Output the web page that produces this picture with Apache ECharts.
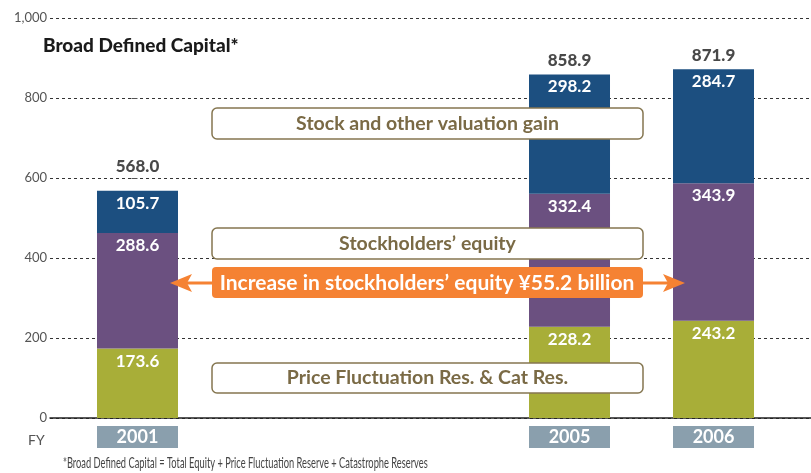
<!DOCTYPE html>
<html>
<head>
<meta charset="utf-8">
<script src="https://cdn.jsdelivr.net/npm/echarts@6/dist/echarts.min.js"></script>
<style>
  html, body { margin: 0; padding: 0; background: #fff; }
  #chart { width: 811px; height: 473px; }
</style>
</head>
<body>
<div id="chart"></div>
<script>
// fiscal years shown, and the slots on the x scale (empty ones are the gap)
const slots = ['2001', '', '', '2005', '2006']
const years = ['2001', '2005', '2006']
const priceRes = [173.6, 228.2, 243.2]     // Price Fluctuation Res. & Cat Res.
const equity = [288.6, 332.4, 343.9]       // Stockholders' equity
const valuation = [105.7, 298.2, 284.7]    // Stock and other valuation gain
const totals = [568.0, 858.9, 871.9]
const yTicks = [0, 200, 400, 600, 800, 1000]

const FONT = 'Lato, "Open Sans", sans-serif'
const xPos = years.map(y => slots.indexOf(y))

// value first, slot second: keeps the stack on the y values
function stackSeries(name, values, color) {
  return {
    name,
    type: 'bar',
    stack: 'capital',
    barWidth: 81,
    encode: { x: 1, y: 0 },
    itemStyle: { color },
    label: {
      show: true,
      position: 'insideTop',
      distance: 4,
      color: '#fff',
      fontFamily: FONT,
      fontWeight: 'bold',
      fontSize: 17,
      formatter: p => p.value[0].toFixed(1)
    },
    data: values.map((v, i) => [v, xPos[i]])
  }
}

function noteBox(x, y, w, h, text) {
  return {
    type: 'group',
    z: 10,
    children: [
      {
        type: 'rect',
        z: 10,
        shape: { x, y, width: w, height: h, r: 5 },
        style: { fill: '#fff', stroke: '#857650', lineWidth: 1.5 }
      },
      {
        type: 'text',
        z: 11,
        x: x + w / 2,
        y: y + h / 2,
        style: {
          text,
          fill: '#7a6a45',
          font: 'bold 19.5px ' + FONT,
          align: 'center',
          verticalAlign: 'middle'
        }
      }
    ]
  }
}

const chart = echarts.init(document.getElementById('chart'))

chart.setOption({
  animation: false,
  title: {
    text: 'Broad Defined Capital*',
    left: 38,
    top: 31,
    textStyle: { fontFamily: FONT, fontWeight: 900, fontSize: 19, color: '#1a1a1a' }
  },
  grid: { left: 50, right: 0, top: 18, bottom: 55 },
  xAxis: {
    type: 'value',
    min: -0.6076,
    max: 4.677,
    splitLine: { show: false },
    axisTick: { show: false },
    axisLine: { show: true, onZero: true, lineStyle: { color: '#222', width: 1.5 } },
    axisLabel: {
      customValues: xPos,
      margin: 8,
      formatter: v => '{box|' + slots[Math.round(v)] + '}',
      rich: {
        box: {
          width: 81,
          height: 22,
          lineHeight: 22,
          align: 'center',
          backgroundColor: '#8a9fad',
          color: '#fff',
          fontFamily: FONT,
          fontWeight: 'bold',
          fontSize: 18
        }
      }
    }
  },
  yAxis: {
    type: 'value',
    min: yTicks[0],
    max: yTicks[yTicks.length - 1],
    interval: 200,
    axisLine: { show: false },
    axisTick: { show: true, length: 6, lineStyle: { color: '#555' } },
    axisLabel: {
      margin: 3,
      color: '#555',
      fontFamily: FONT,
      fontSize: 13,
      formatter: v => v.toLocaleString('en-US')
    },
    splitLine: {
      show: true,
      lineStyle: { color: '#333', type: [3, 3], width: 1 }
    }
  },
  series: [
    stackSeries('Price Fluctuation Res. & Cat Res.', priceRes, '#a8ae38'),
    stackSeries("Stockholders' equity", equity, '#6b5080'),
    stackSeries('Stock and other valuation gain', valuation, '#1c4f80'),
    {
      name: 'Total',
      type: 'scatter',
      symbolSize: 0,
      label: {
        show: true,
        position: 'top',
        distance: 5,
        color: '#1a1a1a',
        fontFamily: FONT,
        fontWeight: 900,
        fontSize: 17,
        formatter: p => p.value[1].toFixed(1)
      },
      data: totals.map((v, i) => i === 0
        ? { value: [xPos[i], v], label: { distance: 16 } }
        : [xPos[i], v])
    }
  ],
  graphic: [
    noteBox(212, 108, 431, 31, 'Stock and other valuation gain'),
    noteBox(212, 228, 431, 31, 'Stockholders\u2019 equity'),
    noteBox(212, 363, 431, 30, 'Price Fluctuation Res. & Cat Res.'),
    // orange double arrow with label
    {
      type: 'line',
      z: 10,
      shape: { x1: 184, y1: 283, x2: 672, y2: 283 },
      style: { stroke: '#f58233', lineWidth: 3 }
    },
    {
      type: 'polygon',
      z: 10,
      shape: { points: [[170, 283], [192, 274], [187, 283], [192, 292]] },
      style: { fill: '#f58233' }
    },
    {
      type: 'polygon',
      z: 10,
      shape: { points: [[685, 283], [663, 274], [668, 283], [663, 292]] },
      style: { fill: '#f58233' }
    },
    {
      type: 'rect',
      z: 11,
      shape: { x: 212, y: 267, width: 431, height: 31, r: 4 },
      style: { fill: '#f58233' }
    },
    {
      type: 'text',
      z: 12,
      x: 427,
      y: 283,
      style: {
        text: 'Increase in stockholders\u2019 equity \u00a555.2 billion',
        fill: '#fff',
        font: 'bold 21px ' + FONT,
        align: 'center',
        verticalAlign: 'middle'
      }
    },
    {
      type: 'text',
      x: 28,
      y: 440,
      style: { text: 'FY', fill: '#555', font: '14px ' + FONT, verticalAlign: 'middle' }
    },
    {
      type: 'text',
      x: 63,
      y: 463,
      scaleX: 0.62,
      style: {
        text: '*Broad Defined Capital = Total Equity + Price Fluctuation Reserve + Catastrophe Reserves',
        fill: '#444',
        font: '15px ' + FONT,
        verticalAlign: 'middle'
      }
    }
  ]
})
</script>
</body>
</html>
